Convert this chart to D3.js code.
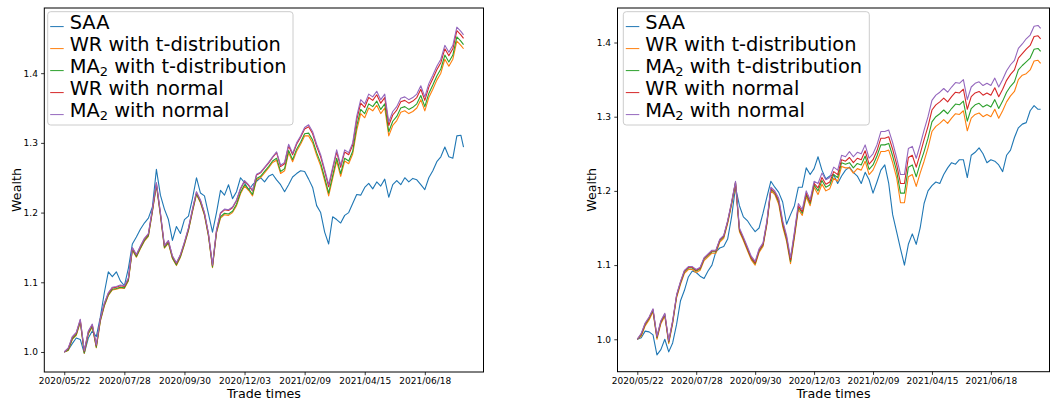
<!DOCTYPE html>
<html>
<head>
<meta charset="utf-8">
<script src="https://cdn.jsdelivr.net/npm/d3@7"></script>
<style>
    body { margin: 0; background: #fff; }
    svg { font-family: "DejaVu Sans", sans-serif; }
</style>
</head>
<body>
<div id="chart"></div>
<script>
// x ticks: one label every 45 trade days
const tickDays = [0, 45, 90, 135, 180, 225, 270];
const tickLabels = ["2020/05/22", "2020/07/28", "2020/09/30", "2020/12/03", "2021/02/09", "2021/04/15", "2021/06/18"];
const wealthTicks = [1.0, 1.1, 1.2, 1.3, 1.4];
const seriesNames = ["SAA", "WR with t-distribution", "MA\u2082 with t-distribution", "WR with normal", "MA\u2082 with normal"];

// wealth read every third trade day (plus the last one)
const leftDays = d3.range(0, 298, 3).concat([299]);
const rightDays = d3.range(0, 307, 3).concat([308]);

const leftSAA = [1.000,1.003,1.012,1.020,1.018,0.998,1.020,1.030,1.022,1.050,
    1.085,1.115,1.108,1.115,1.102,1.095,1.120,1.155,1.165,1.176,
    1.185,1.192,1.208,1.262,1.225,1.205,1.190,1.160,1.180,1.170,
    1.190,1.195,1.220,1.250,1.228,1.224,1.198,1.172,1.200,1.232,
    1.225,1.240,1.220,1.230,1.250,1.243,1.232,1.240,1.245,1.250,
    1.244,1.252,1.255,1.247,1.240,1.230,1.240,1.251,1.256,1.260,
    1.259,1.248,1.236,1.210,1.200,1.172,1.155,1.194,1.190,1.185,
    1.196,1.200,1.213,1.226,1.225,1.236,1.242,1.234,1.244,1.238,
    1.248,1.222,1.240,1.246,1.240,1.250,1.244,1.249,1.247,1.240,
    1.233,1.250,1.260,1.273,1.280,1.294,1.280,1.278,1.310,1.311,
    1.294];
const leftWRt = [1.000,1.002,1.018,1.024,1.043,0.998,1.026,1.036,1.006,1.044,
    1.066,1.081,1.089,1.090,1.092,1.091,1.102,1.146,1.136,1.148,
    1.159,1.166,1.201,1.239,1.196,1.149,1.156,1.134,1.124,1.136,
    1.154,1.174,1.201,1.226,1.214,1.196,1.166,1.121,1.171,1.192,
    1.197,1.196,1.200,1.210,1.227,1.238,1.232,1.224,1.247,1.250,
    1.257,1.264,1.272,1.275,1.256,1.260,1.286,1.273,1.288,1.298,
    1.310,1.310,1.300,1.282,1.267,1.246,1.224,1.249,1.274,1.252,
    1.274,1.270,1.284,1.318,1.342,1.336,1.350,1.346,1.354,1.342,
    1.350,1.310,1.325,1.332,1.344,1.346,1.342,1.345,1.350,1.362,
    1.346,1.365,1.377,1.390,1.400,1.420,1.410,1.420,1.446,1.440,
    1.435];
const leftMAt = [1.000,1.003,1.019,1.025,1.044,0.999,1.027,1.037,1.007,1.045,
    1.067,1.082,1.090,1.091,1.093,1.092,1.103,1.147,1.137,1.149,
    1.160,1.167,1.202,1.240,1.197,1.150,1.157,1.135,1.125,1.137,
    1.155,1.175,1.202,1.227,1.215,1.197,1.167,1.122,1.172,1.194,
    1.199,1.198,1.202,1.212,1.229,1.240,1.234,1.226,1.249,1.252,
    1.259,1.266,1.274,1.278,1.259,1.263,1.289,1.276,1.291,1.301,
    1.313,1.314,1.304,1.286,1.271,1.250,1.228,1.253,1.278,1.256,
    1.278,1.274,1.288,1.324,1.348,1.342,1.356,1.352,1.360,1.348,
    1.356,1.316,1.331,1.338,1.350,1.352,1.348,1.351,1.356,1.368,
    1.352,1.371,1.383,1.396,1.406,1.426,1.416,1.426,1.452,1.446,
    1.441];
const leftWRn = [1.000,1.005,1.021,1.027,1.046,1.001,1.029,1.039,1.009,1.047,
    1.069,1.084,1.092,1.093,1.095,1.094,1.105,1.149,1.139,1.151,
    1.162,1.169,1.204,1.242,1.199,1.152,1.159,1.137,1.127,1.139,
    1.157,1.177,1.204,1.229,1.217,1.199,1.169,1.124,1.174,1.199,
    1.204,1.203,1.207,1.217,1.234,1.245,1.239,1.231,1.254,1.257,
    1.264,1.271,1.279,1.286,1.266,1.270,1.296,1.283,1.298,1.308,
    1.320,1.323,1.313,1.295,1.280,1.259,1.237,1.262,1.287,1.265,
    1.287,1.283,1.297,1.333,1.357,1.351,1.365,1.361,1.369,1.357,
    1.365,1.325,1.340,1.347,1.359,1.361,1.357,1.360,1.365,1.377,
    1.361,1.380,1.392,1.405,1.415,1.435,1.425,1.435,1.461,1.455,
    1.450];
const leftMAn = [1.000,1.006,1.022,1.028,1.047,1.002,1.030,1.040,1.010,1.048,
    1.070,1.085,1.093,1.094,1.096,1.095,1.106,1.150,1.140,1.152,
    1.163,1.170,1.205,1.243,1.200,1.153,1.160,1.138,1.128,1.140,
    1.158,1.178,1.205,1.230,1.218,1.200,1.170,1.125,1.175,1.200,
    1.205,1.204,1.208,1.218,1.235,1.246,1.240,1.232,1.255,1.258,
    1.265,1.272,1.280,1.287,1.268,1.272,1.298,1.285,1.300,1.310,
    1.322,1.326,1.316,1.298,1.283,1.262,1.240,1.265,1.290,1.268,
    1.290,1.286,1.300,1.338,1.362,1.356,1.370,1.366,1.374,1.362,
    1.370,1.330,1.345,1.352,1.364,1.366,1.362,1.365,1.370,1.382,
    1.366,1.385,1.397,1.410,1.420,1.440,1.430,1.440,1.466,1.460,
    1.455];

const rightSAA = [1.000,1.002,1.011,1.010,1.006,0.979,0.986,1.000,0.983,0.995,
    1.020,1.052,1.066,1.084,1.092,1.090,1.085,1.082,1.092,1.100,
    1.118,1.123,1.125,1.135,1.165,1.205,1.180,1.165,1.160,1.152,
    1.145,1.150,1.170,1.192,1.213,1.205,1.198,1.185,1.155,1.168,
    1.180,1.205,1.205,1.231,1.222,1.230,1.246,1.228,1.216,1.220,
    1.222,1.210,1.220,1.228,1.232,1.225,1.220,1.210,1.225,1.215,
    1.197,1.212,1.228,1.235,1.210,1.168,1.145,1.122,1.100,1.128,
    1.142,1.128,1.150,1.183,1.200,1.207,1.212,1.210,1.222,1.231,
    1.238,1.236,1.242,1.242,1.218,1.248,1.252,1.258,1.250,1.238,
    1.242,1.240,1.235,1.226,1.248,1.255,1.272,1.285,1.290,1.292,
    1.308,1.315,1.310,1.310];
const rightWRt = [1.000,1.004,1.018,1.026,1.037,1.000,1.021,1.031,0.994,1.021,
    1.056,1.074,1.089,1.094,1.094,1.090,1.093,1.106,1.111,1.116,
    1.116,1.131,1.136,1.156,1.181,1.209,1.145,1.133,1.120,1.107,
    1.100,1.117,1.125,1.155,1.200,1.195,1.182,1.152,1.132,1.102,
    1.137,1.175,1.167,1.192,1.180,1.205,1.195,1.209,1.200,1.203,
    1.217,1.213,1.233,1.231,1.231,1.224,1.230,1.228,1.240,1.222,
    1.228,1.240,1.253,1.253,1.255,1.238,1.218,1.184,1.184,1.219,
    1.222,1.206,1.224,1.240,1.258,1.280,1.287,1.291,1.296,1.291,
    1.298,1.304,1.303,1.308,1.281,1.298,1.303,1.305,1.300,1.303,
    1.300,1.310,1.298,1.308,1.320,1.328,1.334,1.350,1.356,1.358,
    1.363,1.375,1.376,1.372];
const rightMAt = [1.000,1.006,1.020,1.028,1.039,1.002,1.023,1.033,0.996,1.023,
    1.058,1.076,1.091,1.096,1.096,1.092,1.095,1.108,1.113,1.118,
    1.118,1.133,1.138,1.158,1.183,1.211,1.147,1.135,1.122,1.109,
    1.102,1.119,1.127,1.157,1.202,1.197,1.185,1.155,1.135,1.105,
    1.140,1.178,1.170,1.195,1.183,1.208,1.200,1.214,1.205,1.208,
    1.222,1.218,1.238,1.236,1.238,1.231,1.237,1.235,1.247,1.229,
    1.235,1.247,1.262,1.262,1.264,1.247,1.227,1.197,1.197,1.232,
    1.235,1.219,1.237,1.253,1.271,1.293,1.300,1.304,1.309,1.304,
    1.311,1.317,1.316,1.321,1.294,1.311,1.316,1.318,1.313,1.316,
    1.313,1.323,1.311,1.321,1.333,1.341,1.347,1.363,1.369,1.374,
    1.379,1.391,1.392,1.388];
const rightWRn = [1.000,1.007,1.021,1.029,1.040,1.003,1.024,1.034,0.997,1.024,
    1.059,1.077,1.092,1.097,1.097,1.093,1.096,1.109,1.114,1.119,
    1.119,1.134,1.139,1.159,1.184,1.212,1.148,1.136,1.123,1.110,
    1.103,1.120,1.128,1.158,1.203,1.198,1.187,1.157,1.137,1.107,
    1.142,1.180,1.172,1.197,1.185,1.210,1.204,1.218,1.209,1.212,
    1.226,1.222,1.242,1.240,1.245,1.238,1.244,1.242,1.254,1.236,
    1.242,1.254,1.271,1.271,1.273,1.256,1.236,1.210,1.210,1.245,
    1.248,1.232,1.250,1.269,1.287,1.309,1.316,1.320,1.325,1.320,
    1.327,1.333,1.332,1.337,1.310,1.327,1.332,1.334,1.329,1.332,
    1.329,1.339,1.327,1.337,1.349,1.357,1.363,1.379,1.385,1.391,
    1.396,1.408,1.409,1.405];
const rightMAn = [1.000,1.008,1.022,1.030,1.041,1.004,1.025,1.035,0.998,1.025,
    1.060,1.078,1.093,1.098,1.098,1.094,1.097,1.110,1.115,1.120,
    1.120,1.135,1.140,1.160,1.185,1.213,1.150,1.138,1.125,1.112,
    1.105,1.122,1.130,1.160,1.205,1.200,1.190,1.160,1.140,1.110,
    1.145,1.183,1.175,1.200,1.188,1.213,1.210,1.224,1.215,1.218,
    1.232,1.228,1.248,1.246,1.253,1.246,1.252,1.250,1.262,1.244,
    1.250,1.262,1.280,1.280,1.282,1.265,1.245,1.222,1.222,1.257,
    1.260,1.244,1.262,1.282,1.300,1.322,1.329,1.333,1.338,1.333,
    1.340,1.346,1.345,1.350,1.323,1.340,1.345,1.347,1.342,1.345,
    1.342,1.352,1.340,1.350,1.362,1.370,1.376,1.392,1.398,1.405,
    1.410,1.422,1.423,1.419];

class WealthChart {
    constructor(opts) {
        this.svg = opts.svg;
        this.days = opts.days;
        this.series = opts.series;
        this.frame = opts.frame;
        this.legendAt = opts.legendAt;
        this.colors = ["#1f77b4", "#ff7f0e", "#2ca02c", "#d62728", "#9467bd"];
        const f = this.frame;
        this.x = d3.scaleLinear().domain(opts.xDomain).range([f.left, f.right]);
        this.y = d3.scaleLinear().domain(opts.yDomain).range([f.bottom, f.top]);
        this.draw();
    }

    draw() {
        this.plot = this.svg.append("g");
        this.addLines();
        this.addAxes();
        this.addLegend();
    }

    addLines() {
        const line = d3.line()
            .x((d, i) => this.x(this.days[i]))
            .y(d => this.y(d));
        // SAA first so the strategies sit on top of it, purple last
        this.plot.append("g").selectAll("path")
            .data(this.series)
            .enter()
            .append("path")
            .attr("d", d => line(d))
            .attr("fill", "none")
            .attr("stroke", (d, i) => this.colors[i])
            .attr("stroke-width", 1.1)
            .attr("stroke-linejoin", "round");
    }

    addAxes() {
        const f = this.frame;
        const xAxis = d3.axisBottom(this.x)
            .tickValues(tickDays)
            .tickFormat((d, i) => tickLabels[i])
            .tickSize(3.2)
            .tickPadding(2.4);
        const yAxis = d3.axisLeft(this.y)
            .tickValues(wealthTicks)
            .tickFormat(d3.format(".1f"))
            .tickSize(3.2)
            .tickPadding(3.2);
        const gx = this.plot.append("g")
            .attr("transform", "translate(0," + f.bottom + ")")
            .call(xAxis);
        const gy = this.plot.append("g")
            .attr("transform", "translate(" + f.left + ",0)")
            .call(yAxis);
        [gx, gy].forEach(g => {
            g.attr("font-size", 9).attr("font-family", "DejaVu Sans");
            g.select(".domain").remove();
            g.selectAll(".tick line").attr("stroke", "#000").attr("stroke-width", 0.8);
            g.selectAll(".tick text").attr("fill", "#000");
        });

        this.plot.append("rect")
            .attr("x", f.left)
            .attr("y", f.top)
            .attr("width", f.right - f.left)
            .attr("height", f.bottom - f.top)
            .attr("fill", "none")
            .attr("stroke", "#000")
            .attr("stroke-width", 1);

        this.plot.append("text")
            .attr("x", (f.left + f.right) / 2)
            .attr("y", 397.5)
            .attr("text-anchor", "middle")
            .attr("font-size", 12.7)
            .text("Trade times");
        this.plot.append("text")
            .attr("transform", "translate(" + f.labelX + "," + (f.top + f.bottom) / 2 + ") rotate(-90)")
            .attr("text-anchor", "middle")
            .attr("font-size", 12.7)
            .text("Wealth");
    }

    addLegend() {
        const L = this.legendAt;
        const g = this.svg.append("g")
            .attr("transform", "translate(" + L.x + "," + L.y + ")");
        g.append("rect")
            .attr("width", L.w)
            .attr("height", L.h)
            .attr("rx", 3)
            .attr("fill", "#fff")
            .attr("fill-opacity", 0.8)
            .attr("stroke", "#cccccc")
            .attr("stroke-width", 1);
        seriesNames.forEach((name, j) => {
            const base = 17.6 + 22 * j;
            g.append("line")
                .attr("x1", 2.5).attr("x2", 16)
                .attr("y1", base - 2.7).attr("y2", base - 2.7)
                .attr("stroke", this.colors[j])
                .attr("stroke-width", 1);
            const t = g.append("text")
                .attr("x", 22)
                .attr("y", base)
                .attr("font-size", 19.4)
                .attr("fill", "#000");
            // MA with a subscript 2
            const parts = name.split("\u2082");
            t.append("tspan").text(parts[0]);
            if (parts.length > 1) {
                t.append("tspan").attr("font-size", 13).attr("baseline-shift", "-3").text("2");
                t.append("tspan").text(parts[1]);
            }
        });
    }
}

const svg = d3.select("#chart").append("svg")
    .attr("width", 1054)
    .attr("height", 402);

const leftChart = new WealthChart({
    svg: svg,
    days: leftDays,
    series: [leftSAA, leftWRt, leftMAt, leftWRn, leftMAn],
    frame: { left: 44.3, right: 483.5, top: 8, bottom: 372, labelX: 20.5 },
    xDomain: [-14.95, 313.95],
    yDomain: [0.9713, 1.4935],
    legendAt: { x: 47.7, y: 11.7, w: 245.3, h: 113.3 }
});

const rightChart = new WealthChart({
    svg: svg,
    days: rightDays,
    series: [rightSAA, rightWRt, rightMAt, rightWRn, rightMAn],
    frame: { left: 617.5, right: 1049.5, top: 8, bottom: 371.7, labelX: 596 },
    xDomain: [-15.12, 314.77],
    yDomain: [0.9563, 1.4465],
    legendAt: { x: 623.3, y: 11.7, w: 246, h: 113.3 }
});
</script>
</body>
</html>
